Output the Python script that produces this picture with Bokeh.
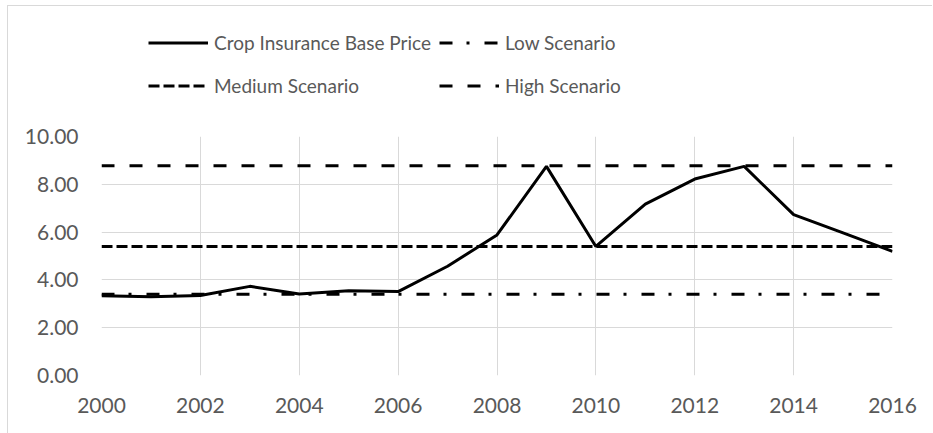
from bokeh.plotting import figure
from bokeh.models import Legend, LegendItem, FixedTicker, PrintfTickFormatter, Range1d
from bokeh.layouts import column
from bokeh.embed import file_html
from bokeh.resources import INLINE

years = list(range(2000, 2017))
base_price = [3.34, 3.30, 3.35, 3.73, 3.41, 3.55, 3.51, 4.57, 5.88, 8.75, 5.40,
              7.17, 8.22, 8.75, 6.73, 5.97, 5.19]
low_scenario = 3.40
medium_scenario = 5.40
high_scenario = 8.78

x_ticks = list(range(2000, 2017, 2))
y_ticks = [0, 2, 4, 6, 8, 10]

series_labels = ["Crop Insurance Base Price", "Low Scenario", "Medium Scenario", "High Scenario"]
series_dash = ["solid", "13 14 3 15", "11 4", "13 15"]

FONT = "Lato"
TXT = "#595959"
GRID = "#d9d9d9"
LW = 3
W = 924
BORDER_L = 93
BORDER_R = 40

# main chart
p = figure(width=W, height=311, output_backend="svg", toolbar_location=None,
           x_range=Range1d(2000, 2016), y_range=Range1d(0, 10),
           min_border_left=BORDER_L, min_border_right=BORDER_R, min_border_top=14, min_border_bottom=58)
p.outline_line_color = None
p.background_fill_color = "white"
p.border_fill_color = "white"

for ax in (p.xaxis[0], p.yaxis[0]):
    ax.axis_line_color = None
    ax.major_tick_line_color = None
    ax.minor_tick_line_color = None
    ax.major_tick_in = 0
    ax.major_tick_out = 0
    ax.major_label_text_font = FONT
    ax.major_label_text_font_size = "21px"
    ax.major_label_text_color = TXT

p.xaxis.ticker = FixedTicker(ticks=x_ticks)
p.yaxis.ticker = FixedTicker(ticks=y_ticks)
p.yaxis.formatter = PrintfTickFormatter(format="%.2f")
p.xaxis.major_label_standoff = 22
p.yaxis.major_label_standoff = 23

p.xgrid.grid_line_color = GRID
p.ygrid.grid_line_color = GRID

r_low = p.line(years, [low_scenario] * len(years), line_color="black", line_width=LW,
               line_dash=series_dash[1])
r_med = p.line(years, [medium_scenario] * len(years), line_color="black", line_width=LW,
               line_dash=series_dash[2])
r_high = p.line(years, [high_scenario] * len(years), line_color="black", line_width=LW,
                line_dash=series_dash[3])
r_base = p.line(years, base_price, line_color="black", line_width=LW)

# legend strip above the chart (frame aligned with the chart frame by the column layout)
lg = figure(width=W, height=116, output_backend="svg", toolbar_location=None,
            x_axis_type=None, y_axis_type=None, x_range=Range1d(0, 1), y_range=Range1d(0, 1),
            min_border_left=BORDER_L, min_border_right=BORDER_R, min_border_top=0, min_border_bottom=0)
lg.outline_line_color = None
lg.xgrid.visible = False
lg.ygrid.visible = False
items = []
for lab, dash in zip(series_labels, series_dash):
    r = lg.line([float("nan")], [float("nan")], line_color="black", line_width=LW, line_dash=dash)
    items.append(LegendItem(label=lab, renderers=[r]))

legend = Legend(items=items, location=(47, 19), orientation="horizontal", ncols=2,
                glyph_width=60, glyph_height=35, label_height=35, label_standoff=6, spacing=8,
                padding=0, margin=0, border_line_color=None, background_fill_alpha=0,
                label_text_font=FONT, label_text_font_size="19px", label_text_color=TXT)
lg.add_layout(legend, "center")

layout = column(lg, p, spacing=0,
                styles={"margin-left": "7px", "margin-top": "5px",
                        "border-left": "1px solid #d9d9d9", "border-top": "1px solid #d9d9d9"})
open("out.html", "w").write(file_html(layout, INLINE))
